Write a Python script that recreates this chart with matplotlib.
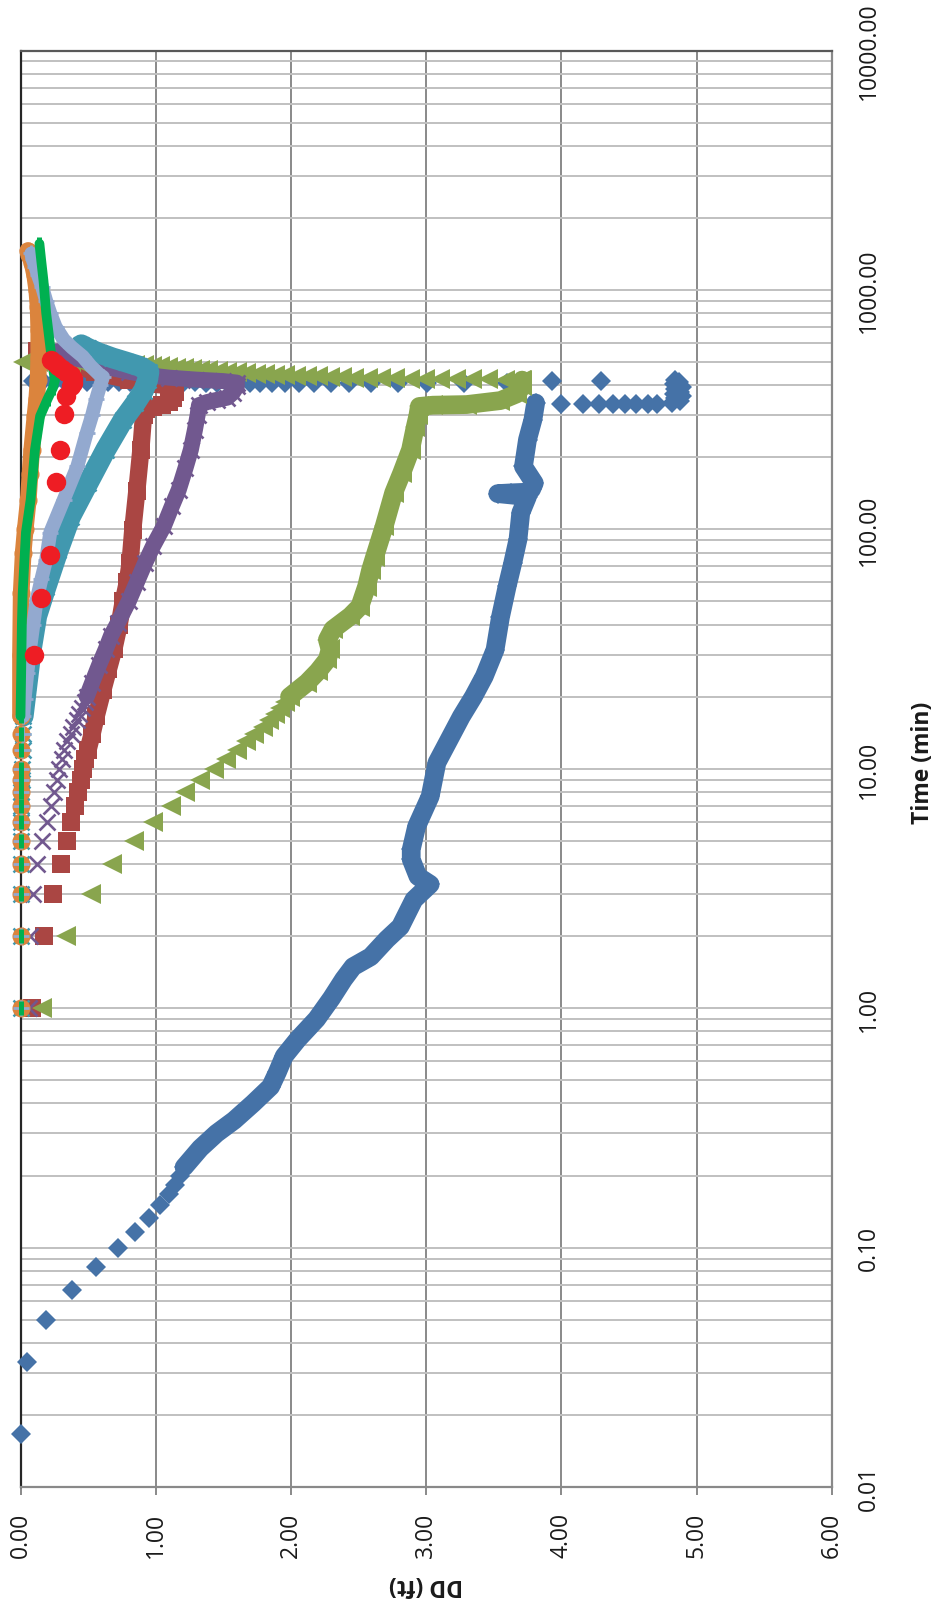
import numpy as np
import matplotlib
matplotlib.use("Agg")
import matplotlib.pyplot as plt
from matplotlib.path import Path
from matplotlib.ticker import FixedLocator, FuncFormatter, LogLocator, NullFormatter

plt.rcParams['font.family'] = ['Open Sans', 'DejaVu Sans']

# ---------------------------------------------------------------------------
# Drawdown (ft) versus elapsed time (min) for each observation well.
# *_EARLY / *_STEP / *_REC : individual readings (drawn as separate markers)
# *_RUN                    : densely logged readings (markers merge into a band)
# ---------------------------------------------------------------------------

# Well 1 (blue diamonds)
BLUE_EARLY_T = [0.0167, 0.0333, 0.05, 0.0667, 0.0833, 0.1, 0.1167, 0.1333, 0.15, 0.1667, 0.1833, 0.2]
BLUE_EARLY_DD = [0.00, 0.05, 0.19, 0.38, 0.56, 0.72, 0.85, 0.95, 1.03, 1.10, 1.14, 1.18]
BLUE_RUN_T = [0.2167, 0.26, 0.30, 0.34, 0.40, 0.47, 0.54, 0.63, 0.74, 0.90, 1.10, 1.32, 1.49, 1.64, 1.94,
              2.19, 2.84, 3.29, 3.55, 4.18, 4.60, 5.74, 7.66, 10.6, 12.9, 16.5, 20.0, 24.3, 31.4, 43.0,
              58.0, 72.0, 91.0, 117.0, 137.0, 141.0, 142.0, 143.0, 147.0, 156.0, 183.0, 237.0, 287.0, 337.0]
BLUE_RUN_DD = [1.21, 1.33, 1.45, 1.58, 1.72, 1.85, 1.90, 1.95, 2.05, 2.19, 2.30, 2.39, 2.46, 2.59, 2.71,
               2.81, 2.91, 3.03, 2.94, 2.89, 2.89, 2.93, 3.03, 3.08, 3.16, 3.26, 3.35, 3.43, 3.51, 3.55,
               3.60, 3.64, 3.68, 3.70, 3.75, 3.53, 3.63, 3.76, 3.78, 3.80, 3.72, 3.75, 3.79, 3.81]
BLUE_STEP_T = [333, 333, 334, 334, 334, 335, 335, 335,
               338, 345, 352, 360, 368, 376, 385, 394, 403, 412, 421, 415, 415]
BLUE_STEP_DD = [4.00, 4.16, 4.28, 4.38, 4.47, 4.55, 4.64, 4.71,
                4.82, 4.88, 4.84, 4.89, 4.83, 4.88, 4.84, 4.89, 4.83, 4.87, 4.84, 4.29, 3.93]
BLUE_REC_T = [407, 407, 408, 408, 408, 408, 409, 409, 409, 409, 409, 409, 410, 410, 410, 410, 410,
              411, 411, 411, 411, 411, 412, 412, 412, 412, 413, 413, 413, 414, 414, 415, 415]
BLUE_REC_DD = [3.60, 3.28, 3.01, 2.79, 2.59, 2.43, 2.30, 2.17, 2.06, 1.96, 1.86, 1.77, 1.70, 1.61, 1.53,
               1.45, 1.37, 1.29, 1.21, 1.13, 1.05, 0.97, 0.89, 0.81, 0.73, 0.65, 0.57, 0.49, 0.41, 0.33,
               0.25, 0.17, 0.09]

# Well 2 (red squares)
RED_EARLY_T = [1, 2, 3, 4, 5, 6, 7, 8, 9, 10, 11]
RED_EARLY_DD = [0.087, 0.176, 0.243, 0.30, 0.342, 0.374, 0.404, 0.428, 0.448, 0.465, 0.48]
RED_RUN_T = [12, 14, 16.6, 21.4, 26, 31.5, 40, 50, 60, 72, 99, 144, 214, 300, 318, 324, 330, 340, 355,
             375, 397, 403, 410, 422, 440, 455, 475, 495, 515, 535, 555]
RED_RUN_DD = [0.50, 0.53, 0.56, 0.61, 0.65, 0.69, 0.73, 0.76, 0.79, 0.81, 0.83, 0.86, 0.89, 0.91, 0.93,
              0.98, 1.05, 1.10, 1.13, 1.14, 1.13, 1.00, 0.90, 0.80, 0.65, 0.55, 0.45, 0.35, 0.25, 0.17, 0.12]

# Well 3 (green triangles)
TRI_EARLY_T = [1, 2, 3, 4, 5, 6, 7, 8, 9, 10, 11, 12, 13, 14, 15, 16, 17, 18, 19]
TRI_EARLY_DD = [0.16, 0.335, 0.52, 0.68, 0.84, 0.98, 1.11, 1.22, 1.33, 1.43, 1.52, 1.60, 1.67, 1.73,
                1.79, 1.84, 1.88, 1.92, 1.96]
TRI_RUN_T = [20, 22.9, 25.5, 28.6, 31.5, 34.6, 38.2, 43.4, 47.6, 57.7, 67.8, 77, 103, 142, 172, 215,
             268, 300, 326, 330, 332, 345, 368, 395, 420]
TRI_RUN_DD = [1.99, 2.12, 2.20, 2.27, 2.29, 2.27, 2.31, 2.44, 2.51, 2.56, 2.59, 2.62, 2.69, 2.76, 2.82,
              2.885, 2.92, 2.94, 2.95, 3.05, 3.30, 3.55, 3.67, 3.71, 3.71]
TRI_REC_T = [422, 422, 423, 423, 424, 424, 425, 426, 427, 428, 429, 430, 432, 433, 435, 436, 438, 440,
             442, 444, 447, 450, 453, 456, 459, 462, 465, 468, 471, 474, 477, 480, 482, 484, 486, 488,
             489, 490, 491, 492, 493, 494, 495, 496, 497, 498, 499, 500, 500]
TRI_REC_DD = [3.70, 3.58, 3.46, 3.34, 3.22, 3.10, 2.99, 2.88, 2.77, 2.67, 2.57, 2.47, 2.38, 2.29, 2.20,
              2.12, 2.04, 1.96, 1.88, 1.81, 1.74, 1.67, 1.60, 1.53, 1.46, 1.39, 1.33, 1.27, 1.21, 1.15,
              1.09, 1.03, 0.97, 0.91, 0.85, 0.79, 0.73, 0.67, 0.61, 0.55, 0.49, 0.43, 0.37, 0.31, 0.25,
              0.19, 0.13, 0.07, 0.02]

# Well 4 (purple crosses)
PUR_EARLY_T = [1, 2, 3, 4, 5, 6, 7, 8, 9, 10, 11, 12, 13, 14, 15, 16, 17, 18, 19]
PUR_EARLY_DD = [0.06, 0.07, 0.095, 0.125, 0.157, 0.194, 0.224, 0.248, 0.268, 0.288, 0.305, 0.32, 0.345,
                0.37, 0.39, 0.415, 0.435, 0.455, 0.475]
PUR_RUN_T = [20, 22.9, 27, 31.5, 36, 40.7, 50, 60, 72, 85, 103, 125, 146, 180, 215, 260, 300, 330, 340,
             347, 355, 372, 395, 410, 416, 422, 430, 440, 455, 475, 497, 515, 537, 555]
PUR_RUN_DD = [0.49, 0.53, 0.58, 0.63, 0.67, 0.72, 0.80, 0.86, 0.92, 0.98, 1.06, 1.12, 1.17, 1.22, 1.26,
              1.29, 1.31, 1.32, 1.38, 1.45, 1.53, 1.57, 1.60, 1.60, 1.50, 1.30, 1.10, 0.95, 0.80, 0.65,
              0.55, 0.42, 0.32, 0.27]

# Well 5 (teal stars)
TEAL_EARLY_T = [1, 2, 3, 4, 5, 6, 7, 8, 9, 10, 12, 14]
TEAL_EARLY_DD = [0.0, 0.0, 0.0, 0.0, 0.0, 0.0, 0.005, 0.005, 0.01, 0.01, 0.015, 0.02]
TEAL_RUN_T = [16.6, 22.9, 31.5, 43.4, 57.7, 82, 113, 156, 215, 287, 337, 380, 420, 455, 480, 500, 520,
              545, 570, 590]
TEAL_RUN_DD = [0.02, 0.05, 0.08, 0.12, 0.19, 0.28, 0.37, 0.50, 0.63, 0.76, 0.85, 0.91, 0.94, 0.95, 0.88,
               0.78, 0.68, 0.58, 0.50, 0.45]

# Well 6 (orange circles)
OR_EARLY_T = [1, 2, 3, 4, 5, 6, 7, 8, 9, 10, 12, 14]
OR_EARLY_DD = [0.0, 0.0, 0.0, 0.0, 0.0, 0.0, 0.0, 0.0, 0.0, 0.0, 0.0, 0.0]
OR_RUN_T = [16.6, 30, 54, 80, 100, 133, 170, 215, 297, 350, 420, 520, 680, 850, 1000, 1150, 1300, 1400, 1460]
OR_RUN_DD = [0.0, 0.0, 0.005, 0.02, 0.035, 0.058, 0.07, 0.083, 0.107, 0.12, 0.13, 0.135, 0.135, 0.13,
             0.12, 0.105, 0.085, 0.065, 0.055]

# Well 7 (light blue plus signs)
LB_EARLY_T = [1, 2, 3, 4, 5, 6, 7, 8, 9, 10, 12, 14]
LB_EARLY_DD = [0.0, 0.0, 0.0, 0.0, 0.0, 0.0, 0.0, 0.0, 0.005, 0.005, 0.01, 0.015]
LB_RUN_T = [16.6, 19.5, 25, 31.5, 40, 50.9, 62, 74.7, 97, 133, 183, 253, 300, 350, 400, 433, 445, 480,
            527, 575, 620, 700, 800, 900, 1030, 1150, 1250, 1340, 1420]
LB_RUN_DD = [0.02, 0.03, 0.05, 0.07, 0.095, 0.12, 0.155, 0.19, 0.22, 0.32, 0.42, 0.49, 0.53, 0.56, 0.59,
             0.61, 0.58, 0.52, 0.46, 0.38, 0.32, 0.26, 0.22, 0.19, 0.16, 0.13, 0.11, 0.09, 0.08]

# Well 8 (green dashes)
GR_EARLY_T = [1, 2, 3, 4, 5, 6, 7, 8, 9, 10, 12, 14]
GR_EARLY_DD = [0.0, 0.0, 0.0, 0.0, 0.0, 0.0, 0.0, 0.0, 0.0, 0.0, 0.0, 0.0]
GR_RUN_T = [16.6, 25, 40, 54, 97, 133, 215, 297, 350, 390, 420, 470, 580, 800, 1093, 1300, 1467, 1560]
GR_RUN_DD = [0.0, 0.005, 0.01, 0.016, 0.04, 0.075, 0.107, 0.145, 0.20, 0.24, 0.255, 0.24, 0.22, 0.19,
             0.17, 0.155, 0.145, 0.14]

# Well 9 (red dots, manual readings)
RC_T = [30, 51.5, 78.5, 158, 214, 302, 360, 395, 410, 425, 440, 455, 468, 482, 497, 510]
RC_DD = [0.10, 0.15, 0.215, 0.26, 0.29, 0.32, 0.335, 0.37, 0.385, 0.385, 0.37, 0.34, 0.31, 0.28, 0.255, 0.225]

DD_TICKS = [0, 1, 2, 3, 4, 5, 6]
TIME_TICKS = [0.01, 0.1, 1, 10, 100, 1000, 10000]

# asterisk marker: an x with a cross bar
STAR = Path([(-1, -1), (1, 1), (-1, 1), (1, -1), (-1, 0), (1, 0)],
            [Path.MOVETO, Path.LINETO, Path.MOVETO, Path.LINETO, Path.MOVETO, Path.LINETO])

fig = plt.figure(figsize=(9.36, 16.06), dpi=100)
fig.patch.set_facecolor('white')
ax = fig.add_axes([20.5 / 936, 118 / 1606, 811.2 / 936, 1436.5 / 1606])

ax.set_yscale('log')
ax.set_xlim(0, 6)
ax.set_ylim(0.01, 10000)


def marker_kw(color, marker, ms, mew, filled):
    if filled:
        return dict(marker=marker, ms=ms, mfc=color, mec=color, mew=0)
    return dict(marker=marker, ms=ms, mec=color, mew=mew)


def draw_points(t, dd, color, marker, ms, mew, filled, z):
    ax.plot(dd, t, ls='none', clip_on=False, zorder=z, **marker_kw(color, marker, ms, mew, filled))


def draw_run(t, dd, color, marker, ms, mew, filled, lw, z):
    ax.plot(dd, t, color=color, lw=lw, solid_joinstyle='round', solid_capstyle='round',
            clip_on=False, zorder=z)
    draw_points(t, dd, color, marker, ms, mew, filled, z)


C_BLUE, C_RED, C_TRI, C_PUR = '#4572A7', '#AA4643', '#89A54E', '#71588F'
C_TEAL, C_OR, C_LB, C_GR, C_RC = '#4198AF', '#DB843D', '#93A9CF', '#00B050', '#EE1D24'

MS_D, MS_S, MS_TRI, MS_X, MS_STAR, MS_O, MS_PLUS, MS_BAR, MS_RC = 10, 12.5, 14, 11.5, 11.5, 13, 12, 10, 14

draw_points(BLUE_EARLY_T, BLUE_EARLY_DD, C_BLUE, 'D', MS_D, 0, True, 3)
draw_run(BLUE_RUN_T, BLUE_RUN_DD, C_BLUE, 'D', MS_D, 0, True, 13.5, 3)
draw_points(BLUE_STEP_T, BLUE_STEP_DD, C_BLUE, 'D', MS_D, 0, True, 3)
draw_points(BLUE_REC_T, BLUE_REC_DD, C_BLUE, 'D', MS_D, 0, True, 3)

draw_points(RED_EARLY_T, RED_EARLY_DD, C_RED, 's', MS_S, 0, True, 4)
draw_run(RED_RUN_T, RED_RUN_DD, C_RED, 's', MS_S, 0, True, 12.5, 4)

draw_points(TRI_EARLY_T, TRI_EARLY_DD, C_TRI, '<', MS_TRI, 0, True, 5)
draw_run(TRI_RUN_T, TRI_RUN_DD, C_TRI, '<', MS_TRI, 0, True, 13.5, 5)
draw_points(TRI_REC_T, TRI_REC_DD, C_TRI, '<', MS_TRI, 0, True, 5)

draw_points(PUR_EARLY_T, PUR_EARLY_DD, C_PUR, 'x', MS_X, 1.9, False, 6)
draw_run(PUR_RUN_T, PUR_RUN_DD, C_PUR, 'x', MS_X, 1.9, False, 11.5, 6)

draw_points(TEAL_EARLY_T, TEAL_EARLY_DD, C_TEAL, STAR, MS_STAR, 1.8, False, 7)
draw_run(TEAL_RUN_T, TEAL_RUN_DD, C_TEAL, STAR, MS_STAR, 1.8, False, 15, 7)

draw_points(OR_EARLY_T, OR_EARLY_DD, C_OR, 'o', MS_O, 0, True, 8)
draw_run(OR_RUN_T, OR_RUN_DD, C_OR, 'o', MS_O, 0, True, 12, 8)

draw_points(LB_EARLY_T, LB_EARLY_DD, C_LB, '+', MS_PLUS, 2.0, False, 9)
draw_run(LB_RUN_T, LB_RUN_DD, C_LB, '+', MS_PLUS, 2.0, False, 10, 9)

draw_points(GR_EARLY_T, GR_EARLY_DD, C_GR, '|', MS_BAR, 3.6, False, 10)
draw_run(GR_RUN_T, GR_RUN_DD, C_GR, '|', MS_BAR, 3.6, False, 7, 10)

draw_points(RC_T, RC_DD, C_RC, 'o', MS_RC, 0, True, 11)

# grid and axes
ax.set_axisbelow(True)
ax.xaxis.set_major_locator(FixedLocator(DD_TICKS))
ax.yaxis.set_major_locator(FixedLocator(TIME_TICKS))
ax.yaxis.set_minor_locator(LogLocator(base=10, subs=np.arange(2, 10)))
ax.yaxis.set_minor_formatter(NullFormatter())
ax.xaxis.set_major_formatter(FuncFormatter(lambda v, p: f'{v:.2f}'))
ax.yaxis.set_major_formatter(FuncFormatter(lambda v, p: f'{v:.2f}'))

ax.grid(True, axis='x', which='major', color='#898989', lw=1.4)
ax.grid(True, axis='y', which='both', color='#C0C0C0', lw=1.4)

ax.yaxis.tick_right()
ax.yaxis.set_label_position('right')
ax.tick_params(axis='x', which='major', direction='out', length=6, width=1.4, color='#898989',
               pad=12, labelsize=16.5, labelcolor='#1a1a1a', labelrotation=90)
ax.tick_params(axis='y', which='major', direction='in', length=0, pad=18, labelsize=16.5,
               labelcolor='#1a1a1a', labelrotation=90)
ax.tick_params(axis='y', which='minor', length=0)
for lab in ax.get_yticklabels():
    lab.set_va('center')
    lab.set_ha('left')

for side, col, lw in [('left', '#262626', 1.6), ('bottom', '#898989', 1.6),
                      ('right', '#898989', 1.6), ('top', '#595959', 1.6)]:
    ax.spines[side].set_color(col)
    ax.spines[side].set_linewidth(lw)

ax.set_xlabel('DD (ft)', rotation=180, fontsize=16.5, fontweight='bold', color='#1a1a1a')
ax.xaxis.label.set_va('center')
ax.xaxis.label.set_ha('center')
ax.xaxis.set_label_coords(0.5, -0.0675)
ax.set_ylabel('Time (min)', rotation=90, fontsize=16.5, fontweight='bold', color='#1a1a1a')
ax.yaxis.label.set_va('center')
ax.yaxis.label.set_ha('center')
ax.yaxis.set_label_coords(1.1125, 0.505)

fig.savefig('out.png', dpi=100, facecolor='white')
